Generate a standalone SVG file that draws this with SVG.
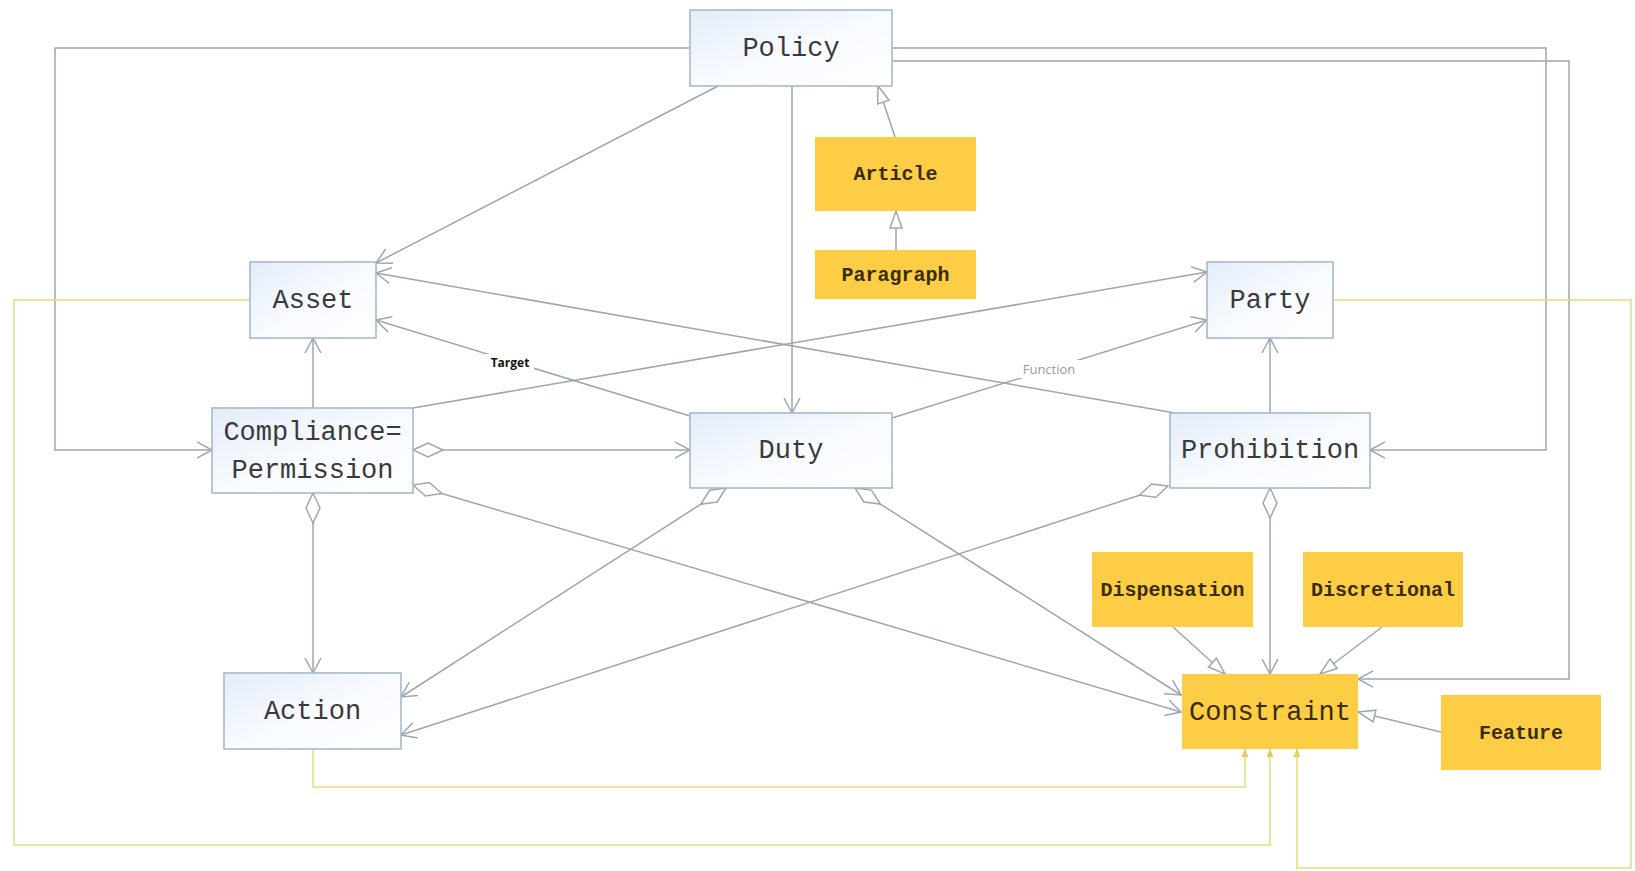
<svg xmlns="http://www.w3.org/2000/svg" width="1635" height="871" viewBox="0 0 1635 871">
<defs>
<linearGradient id="blueFill" x1="0" y1="0" x2="1" y2="1">
<stop offset="0" stop-color="#e4edf9"/>
<stop offset="0.5" stop-color="#f7faff"/>
<stop offset="1" stop-color="#ffffff"/>
</linearGradient>
<marker id="open" markerUnits="userSpaceOnUse" markerWidth="18" markerHeight="20" refX="15" refY="9" orient="auto">
<path d="M0,1 L15,9 L0,17" fill="none" stroke="#9ea6b0" stroke-width="1.5"/>
</marker>
<marker id="tri" markerUnits="userSpaceOnUse" markerWidth="20" markerHeight="16" refX="18" refY="7" orient="auto">
<path d="M1,1 L18,7 L1,13 Z" fill="#ffffff" stroke="#9ea6b0" stroke-width="1.5"/>
</marker>
<marker id="dia" markerUnits="userSpaceOnUse" markerWidth="34" markerHeight="18" refX="1" refY="8" orient="auto">
<path d="M1,8 L16,1 L31,8 L16,15 Z" fill="#ffffff" stroke="#9ea6b0" stroke-width="1.5"/>
</marker>
<marker id="ya" markerUnits="userSpaceOnUse" markerWidth="10" markerHeight="8" refX="8" refY="4" orient="auto">
<path d="M0,0.5 L8,4 L0,7.5 Z" fill="#e2cf5a"/>
</marker>
</defs>
<style>
.bn rect{fill:url(#blueFill);stroke:#a3b5c8;stroke-width:1.5}
.bn text{font-family:"Liberation Mono",monospace;font-size:27px;fill:#3a3a3a;text-anchor:middle}
.yn rect{fill:#fdcd46}
.yn text{font-family:"Liberation Mono",monospace;font-size:20px;font-weight:bold;fill:#3a2c05;text-anchor:middle}
.yn text.big{font-size:27px;font-weight:normal}
.e{fill:none;stroke:#9ea6b0;stroke-width:1.5}
.y{fill:none;stroke:#e9dc7e;stroke-width:1.5}
.lbl{font-family:"Open Sans","Liberation Sans",sans-serif;text-anchor:middle}
</style>
<rect width="1635" height="871" fill="#ffffff"/>
<g id="connectors">
<path class="e" d="M690,48 L55,48 L55,450 L212,450" marker-end="url(#open)"/>
<path class="e" d="M892,48 L1546,48 L1546,450 L1370,450" marker-end="url(#open)"/>
<path class="e" d="M892,61 L1569,61 L1569,679 L1358,679" marker-end="url(#open)"/>
<path class="e" d="M718,86 L376,263" marker-end="url(#open)"/>
<path class="e" d="M792,86 L792,413" marker-end="url(#open)"/>
<path class="e" d="M895,137 L878,86" marker-end="url(#tri)"/>
<path class="e" d="M896,250 L896,211" marker-end="url(#tri)"/>
<path class="e" d="M1175,413 L376,273" marker-end="url(#open)"/>
<path class="e" d="M690,416 L376,320" marker-end="url(#open)"/>
<path class="e" d="M413,408 L1207,272" marker-end="url(#open)"/>
<path class="e" d="M892,418 L1207,320" marker-end="url(#open)"/>
<path class="e" d="M313,408 L313,338" marker-end="url(#open)"/>
<path class="e" d="M1270,413 L1270,338" marker-end="url(#open)"/>
<path class="e" d="M413,450 L690,450" marker-start="url(#dia)" marker-end="url(#open)"/>
<path class="e" d="M413,485 L1181,712" marker-start="url(#dia)" marker-end="url(#open)"/>
<path class="e" d="M313,493 L313,673" marker-start="url(#dia)" marker-end="url(#open)"/>
<path class="e" d="M726,488 L401,697" marker-start="url(#dia)" marker-end="url(#open)"/>
<path class="e" d="M855,488 L1181,695" marker-start="url(#dia)" marker-end="url(#open)"/>
<path class="e" d="M1168,486 L401,735" marker-start="url(#dia)" marker-end="url(#open)"/>
<path class="e" d="M1270,488 L1270,674" marker-start="url(#dia)" marker-end="url(#open)"/>
<path class="e" d="M1173,627 L1225,674" marker-end="url(#tri)"/>
<path class="e" d="M1382,627 L1320,674" marker-end="url(#tri)"/>
<path class="e" d="M1441,732 L1358,712" marker-end="url(#tri)"/>
<path class="y" d="M250,300 L14,300 L14,845 L1270,845 L1270,749" marker-end="url(#ya)"/>
<path class="y" d="M313,749 L313,787 L1245,787 L1245,749" marker-end="url(#ya)"/>
<path class="y" d="M1333,300 L1631,300 L1631,868 L1297,868 L1297,749" marker-end="url(#ya)"/>
<rect x="486" y="354" width="48" height="17" fill="#ffffff"/>
<text class="lbl" x="510" y="367" font-size="12" font-weight="bold" fill="#111111">Target</text>
<rect x="1017" y="360" width="64" height="18" fill="#ffffff"/>
<text class="lbl" x="1049" y="374" font-size="13" fill="#9a9a9a">Function</text>
</g>
<g id="policy" class="bn"><rect x="690" y="10" width="202" height="76"/><text x="791" y="56">Policy</text></g>
<g id="asset" class="bn"><rect x="250" y="262" width="126" height="76"/><text x="313" y="308">Asset</text></g>
<g id="party" class="bn"><rect x="1207" y="262" width="126" height="76"/><text x="1270" y="308">Party</text></g>
<g id="compliance" class="bn"><rect x="212" y="408" width="201" height="85"/><text x="312.5" y="440">Compliance=</text><text x="312.5" y="478">Permission</text></g>
<g id="duty" class="bn"><rect x="690" y="413" width="202" height="75"/><text x="791" y="458">Duty</text></g>
<g id="prohibition" class="bn"><rect x="1170" y="413" width="200" height="75"/><text x="1270" y="458">Prohibition</text></g>
<g id="action" class="bn"><rect x="224" y="673" width="177" height="76"/><text x="312.5" y="719">Action</text></g>
<g id="article" class="yn"><rect x="815" y="137" width="161" height="74"/><text x="895.5" y="180">Article</text></g>
<g id="paragraph" class="yn"><rect x="815" y="250" width="161" height="49"/><text x="895.5" y="281">Paragraph</text></g>
<g id="dispensation" class="yn"><rect x="1092" y="552" width="161" height="75"/><text x="1172.5" y="596">Dispensation</text></g>
<g id="discretional" class="yn"><rect x="1303" y="552" width="160" height="75"/><text x="1383" y="596">Discretional</text></g>
<g id="constraint" class="yn"><rect x="1182" y="674" width="176" height="75"/><text class="big" x="1270" y="720">Constraint</text></g>
<g id="feature" class="yn"><rect x="1441" y="695" width="160" height="75"/><text x="1521" y="739">Feature</text></g>
</svg>
